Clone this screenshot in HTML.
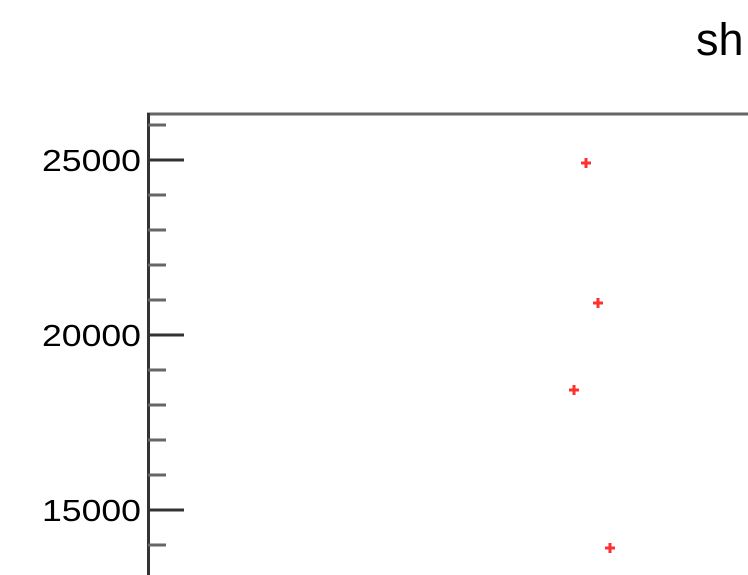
<!DOCTYPE html>
<html><head><style>
body{margin:0;background:#fff;width:748px;height:575px;overflow:hidden}
svg{display:block}
text{font-family:"Liberation Sans",sans-serif}
</style></head><body>
<svg id="chart" width="748" height="575">
<text x="696" y="55" font-size="45" fill="#000">sh</text>
<line x1="147" y1="114" x2="748" y2="114" stroke="#666" stroke-width="3"/>
<line x1="148.5" y1="113" x2="148.5" y2="575" stroke="#333" stroke-width="3"/>
<g id="ticks"></g>
<g id="points"></g>
</svg>
<script>
const xValues = [4.38, 4.50, 4.26, 4.62];
const yValues = [24914, 20914, 18429, 13914];
const majorTicks = [15000, 20000, 25000];
const tickLabels = ["15000", "20000", "25000"];
const minorTicks = [13000, 14000, 16000, 17000, 18000, 19000, 21000, 22000, 23000, 24000, 26000];
const NS = "http://www.w3.org/2000/svg";
function yScale(v){ return 160 + (25000 - v) * 0.035; }
function xScale(v){ return 148 + v * 100; }
const tg = document.getElementById('ticks');
majorTicks.forEach((t, i) => {
  const y = yScale(t);
  const l = document.createElementNS(NS, 'line');
  l.setAttribute('x1', 148); l.setAttribute('x2', 184);
  l.setAttribute('y1', y); l.setAttribute('y2', y);
  l.setAttribute('stroke', '#333'); l.setAttribute('stroke-width', 3);
  
  
  tg.appendChild(l);
  const tx = document.createElementNS(NS, 'text');
  tx.setAttribute('x', 42); tx.setAttribute('y', y + 11);
  tx.setAttribute('font-size', 31);
  tx.setAttribute('textLength', 99);
  tx.setAttribute('lengthAdjust', 'spacingAndGlyphs');
  tx.textContent = tickLabels[i];
  
  
  tg.appendChild(tx);
});
minorTicks.forEach(t => {
  const y = yScale(t);
  const l = document.createElementNS(NS, 'line');
  l.setAttribute('x1', 148); l.setAttribute('x2', 166);
  l.setAttribute('y1', y); l.setAttribute('y2', y);
  l.setAttribute('stroke', '#666'); l.setAttribute('stroke-width', 3);
  
  
  tg.appendChild(l);
});
const pg = document.getElementById('points');
xValues.forEach((xv, i) => {
  const cx = xScale(xv), cy = yScale(yValues[i]);
  const p = document.createElementNS(NS, 'path');
  p.setAttribute('d', `M${cx-5},${cy}H${cx+5}M${cx},${cy-5}V${cy+5}`);
  p.setAttribute('stroke', '#ff3030'); p.setAttribute('stroke-width', 3);
  
  
  pg.appendChild(p);
});
</script>
</body></html>
